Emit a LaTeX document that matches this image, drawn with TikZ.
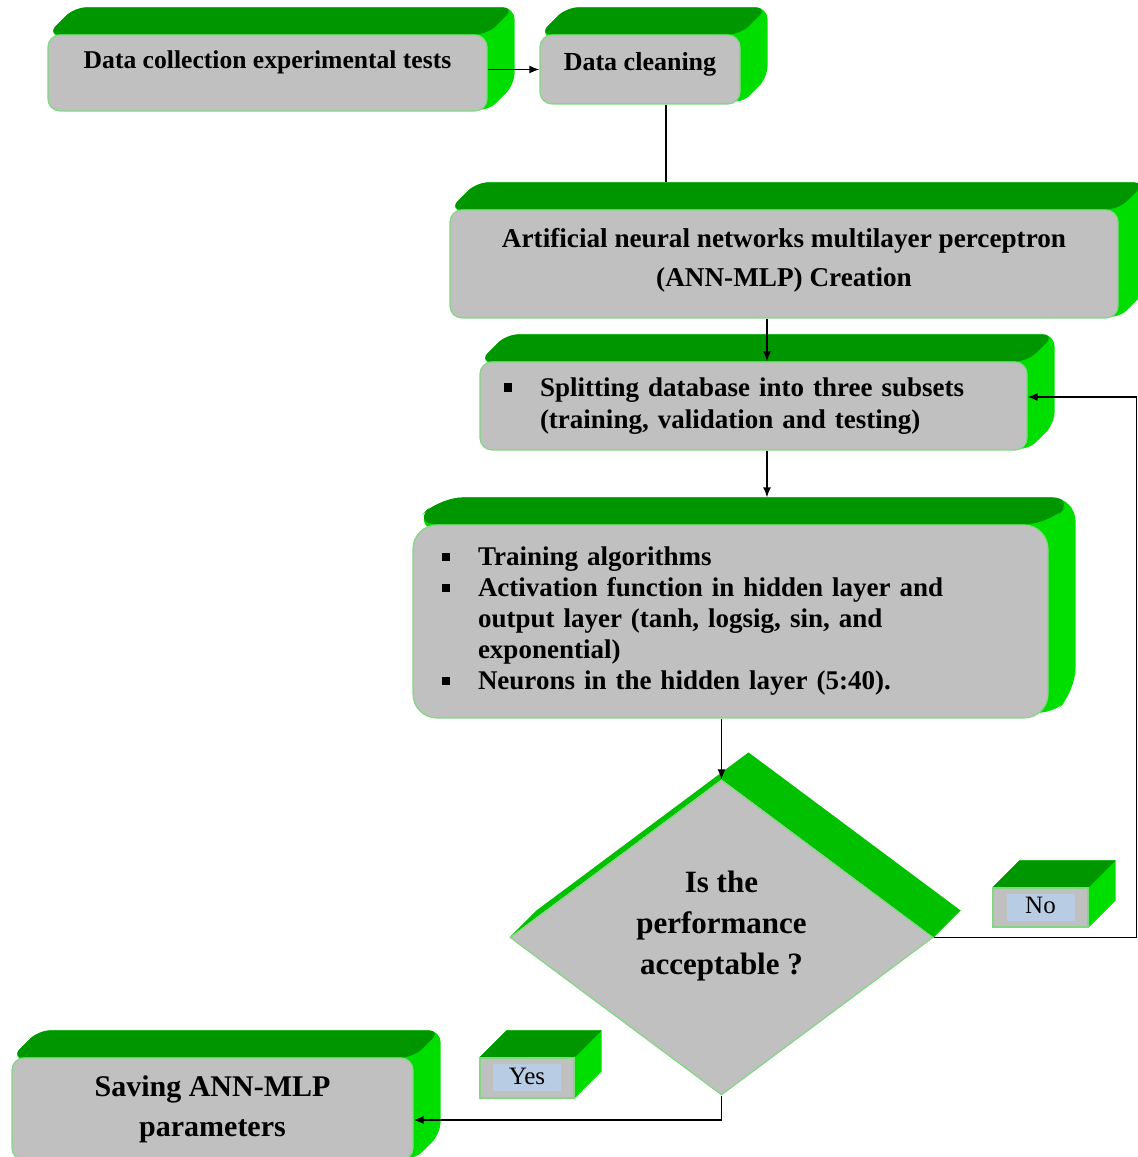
\documentclass[tikz,border=0pt]{standalone}
\usepackage{fontspec}
\setmainfont{Liberation Serif}
\usetikzlibrary{shapes.geometric,arrows.meta,positioning,calc,backgrounds}
\definecolor{facegrey}{RGB}{192,192,192}
\definecolor{edgegreen}{RGB}{130,215,130}
\definecolor{topgreen}{RGB}{0,150,0}
\definecolor{sidegreen}{RGB}{0,222,0}
\definecolor{diagreen}{RGB}{0,192,0}
\definecolor{tagblue}{RGB}{184,204,228}
\newcommand{\boxfont}[2]{\fontsize{#1}{#2}\selectfont\bfseries}
\newcommand{\sqitem}{\makebox[18pt][l]{\rule[0.18em]{0.3em}{0.3em}}}
\newcommand{\tagtext}[1]{{\setlength{\fboxsep}{0pt}\colorbox{tagblue}{\makebox[34pt]{\rule[-3.5pt]{0pt}{13.5pt}#1}}}}
\tikzset{
    gbox/.style 2 args={draw=edgegreen, fill=facegrey, rounded corners=6pt,
                 line width=0.6pt, inner sep=0pt, align=center,
                 font=\boxfont{#1}{#2}},
    tagbox/.style={draw=edgegreen, fill=facegrey, line width=0.6pt,
                   inner sep=0pt, font=\fontsize{12.5}{15}\selectfont},
    decision/.style={diamond, aspect=1.34, draw=edgegreen, fill=facegrey,
                     line width=0.6pt, inner sep=0pt, align=center,
                     font=\boxfont{15.5}{20.5}},
}

\begin{document}
\begin{tikzpicture}[
    x=0.5pt, y=0.5pt,
    arr/.style={-{Latex[length=5pt,width=4pt]}, line width=0.75pt}
]
    \useasboundingbox (0,0) rectangle (1137,1157);
    \def\dep{27}

    % front faces
    \node[gbox={12.8}{16}, minimum width=219.5pt, minimum height=38pt, text depth=13pt] (collect) at (267.5,1084) {Data collection experimental tests};
    \node[gbox={13}{16}, minimum width=100pt, minimum height=34.5pt, text depth=8pt] (clean) at (640,1087.5) {Data cleaning};
    \node[gbox={13.6}{19.5}, minimum width=334pt, minimum height=54pt, text depth=7pt] (ann) at (784,893) {Artificial neural networks multilayer perceptron\\(ANN-MLP) Creation};
    \node[gbox={13.5}{16}, align=left, text width=249.5pt, inner xsep=12pt, minimum height=44pt] (split) at (753.5,751)
        {\begin{tabular}{@{}l@{}}
         \sqitem Splitting database into three subsets\\
         \hspace*{18pt}(training, validation and testing)
         \end{tabular}};
    \node[gbox={13.5}{15.5}, align=left, rounded corners=12pt, text width=288.5pt, inner xsep=14.5pt, minimum height=96.5pt] (train) at (730.5,535.5)
        {\begin{tabular}{@{}l@{}}
         \sqitem Training algorithms\\
         \sqitem Activation function in hidden layer and\\
         \hspace*{18pt}output layer (tanh, logsig, sin, and\\
         \hspace*{18pt}exponential)\\
         \sqitem Neurons in the hidden layer (5:40).
         \end{tabular}};
    \node[decision, minimum width=211.5pt, minimum height=157.5pt, text depth=15pt] (dia) at (721.5,219.5) {Is the\\performance\\acceptable ?};
    \node[gbox={15}{20}, minimum width=200.5pt, minimum height=51pt] (save) at (212.5,48) {Saving ANN-MLP\\parameters};
    \node[tagbox, minimum width=47.5pt, minimum height=19.5pt] (no) at (1040.5,249.5) {\tagtext{No}};
    \node[tagbox, minimum width=47pt, minimum height=20pt] (yes) at (527,79) {\tagtext{Yes}};

    % green depth behind the faces
    \begin{scope}[on background layer]
        \foreach \n/\r in {collect/6,clean/6,ann/6,split/6,train/12,save/6,no/0.1,yes/0.1} {
            \fill[sidegreen, rounded corners=\r pt] (\n.north west) -- ++(\dep,\dep) -- ($(\n.north east)+(\dep,\dep)$)
                -- ($(\n.south east)+(\dep,\dep)$) -- (\n.south east) -- (\n.center) -- cycle;
            \fill[topgreen, rounded corners=\r pt] (\n.north west) -- ++(\dep,\dep) -- ($(\n.north east)+(\dep,\dep)$)
                -- (\n.north east) -- cycle;
        }
        \fill[diagreen] (dia.west) -- ++(\dep,\dep) -- ($(dia.north)+(\dep,\dep)$) -- ($(dia.east)+(\dep,\dep)$)
            -- (dia.east) -- (dia.north) -- cycle;
    \end{scope}

    % connectors
    \coordinate (anntop) at ($(ann.north)+(0,\dep)$);
    \coordinate (traintop) at ($(train.north)+(0,\dep)$);
    \draw[arr] (collect.east |- clean.west) -- (clean.west);
    \draw[line width=0.75pt] ([xshift=13pt]clean.south) -- ([xshift=13pt]clean.south |- anntop);
    \draw[arr] ([xshift=6.75pt]split.north |- ann.south) -- ([xshift=6.75pt]split.north);
    \draw[arr] ([xshift=6.75pt]split.south) -- ([xshift=6.75pt]split.south |- traintop);
    \draw[arr] (dia.north |- train.south) -- (dia.north);
    \draw[arr] (dia.east) -- ++(203,0) |- ([yshift=4.5pt]split.east);
    \draw[arr] (dia.south) |- ([yshift=-5.5pt]save.east);
\end{tikzpicture}
\end{document}
